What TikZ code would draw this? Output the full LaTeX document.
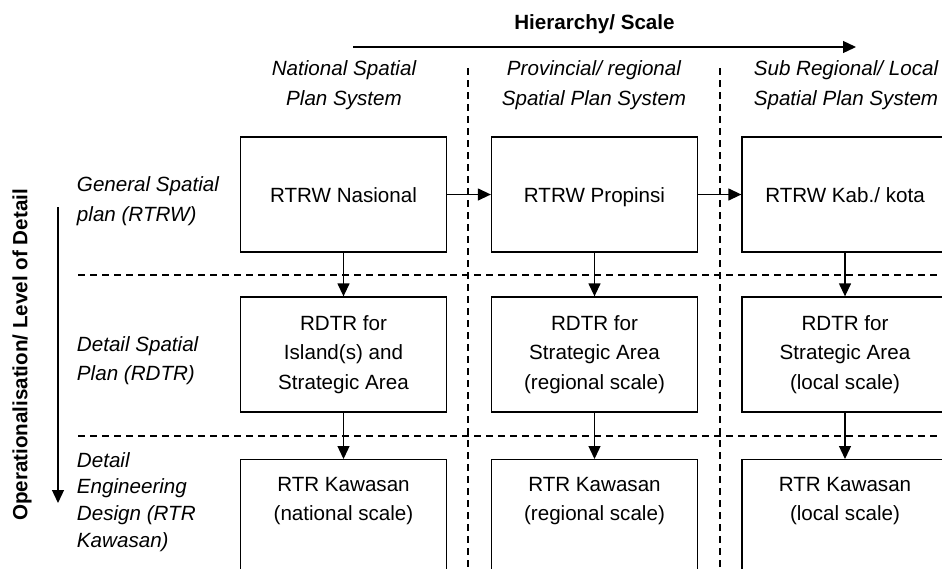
\documentclass[tikz,border=0pt]{standalone}
\usepackage{fontspec}
\setmainfont{Liberation Sans}
\usetikzlibrary{arrows.meta}

\begin{document}
\begin{tikzpicture}[x=1pt,y=-1pt,line width=1.3pt,
    every node/.style={font=\fontsize{20.6}{29.5}\selectfont},
    plan/.style={draw,minimum width=206pt,minimum height=115pt,align=center,inner sep=0pt},
    topplan/.style={plan,text height=17pt,text depth=0.5pt},
    lowplan/.style={draw,minimum width=206pt,minimum height=130pt,anchor=north,inner sep=0pt},
    head/.style={align=center,font=\fontsize{20.6}{29.5}\selectfont\itshape},
    tier/.style={align=left,anchor=west,font=\fontsize{20.6}{29.5}\selectfont\itshape},
    axis/.style={font=\fontsize{20.6}{29.5}\selectfont\bfseries},
    flow/.style={-{Triangle[length=13pt,width=12pt]}},
    sep/.style={dash pattern=on 7pt off 5pt,line width=1.2pt}]
  \useasboundingbox (0,0) rectangle (942,568);
  \clip (0,0) rectangle (942,568);

  % axes
  \node[axis] (hier) at (594.5,24) {Hierarchy/ Scale};
  \coordinate (hierA) at (353,47);
  \coordinate (hierB) at (856,47);
  \draw[flow] (hierA) -- (hierB);
  \node[axis,rotate=90] (oper) at (22,355) {Operationalisation/ Level of Detail};
  \coordinate (operA) at (58,207);
  \coordinate (operB) at (58,503);
  \draw[flow] (operA) -- (operB);

  % column and row headings
  \node[head] (natHead) at (344,85) {National Spatial\\Plan System};
  \node[head] (provHead) at (594,85) {Provincial/ regional\\Spatial Plan System};
  \node[head] (locHead) at (846,85) {Sub Regional/ Local\\Spatial Plan System};
  \node[tier] (rtrwRow) at (73,201) {General Spatial\\plan (RTRW)};
  \node[tier] (rdtrRow) at (73,360.5) {Detail Spatial\\Plan (RDTR)};
  \node[tier,font=\fontsize{20.6}{26.7}\selectfont\itshape] (rtrRow) at (73,502) {Detail\\Engineering\\Design (RTR\\Kawasan)};

  % grid
  \draw[sep] (468,68) -- (468,568);
  \draw[sep] (720,68) -- (720,568);
  \draw[sep] (78,275) -- (942,275);
  \draw[sep] (78,436) -- (942,436);

  % plans
  \node[topplan] (rtrwNas) at (343.5,194.5) {RTRW Nasional};
  \node[topplan] (rtrwProp) at (594.5,194.5) {RTRW Propinsi};
  \node[topplan] (rtrwKab) at (845,194.5) {RTRW Kab./ kota};
  \node[plan] (rdtrNas) at (343.5,354.5) {RDTR for\\Island(s) and\\Strategic Area};
  \node[plan] (rdtrProp) at (594.5,354.5) {RDTR for\\Strategic Area\\(regional scale)};
  \node[plan] (rdtrKab) at (845,354.5) {RDTR for\\Strategic Area\\(local scale)};
  \node[lowplan,label={[align=center,anchor=north,yshift=-14pt]north:{RTR Kawasan\\(national scale)}}] (rtrNas) at (343.5,459) {};
  \node[lowplan,label={[align=center,anchor=north,yshift=-14pt]north:{RTR Kawasan\\(regional scale)}}] (rtrProp) at (594.5,459) {};
  \node[lowplan,label={[align=center,anchor=north,yshift=-14pt]north:{RTR Kawasan\\(local scale)}}] (rtrKab) at (845,459) {};

  \draw[flow] (rtrwNas) -- (rtrwProp);
  \draw[flow] (rtrwProp) -- (rtrwKab);
  \draw[flow] (rtrwNas) -- (rdtrNas);
  \draw[flow] (rtrwProp) -- (rdtrProp);
  \draw[flow] (rtrwKab) -- (rdtrKab);
  \draw[flow] (rdtrNas) -- (rtrNas);
  \draw[flow] (rdtrProp) -- (rtrProp);
  \draw[flow] (rdtrKab) -- (rtrKab);
\end{tikzpicture}
\end{document}
